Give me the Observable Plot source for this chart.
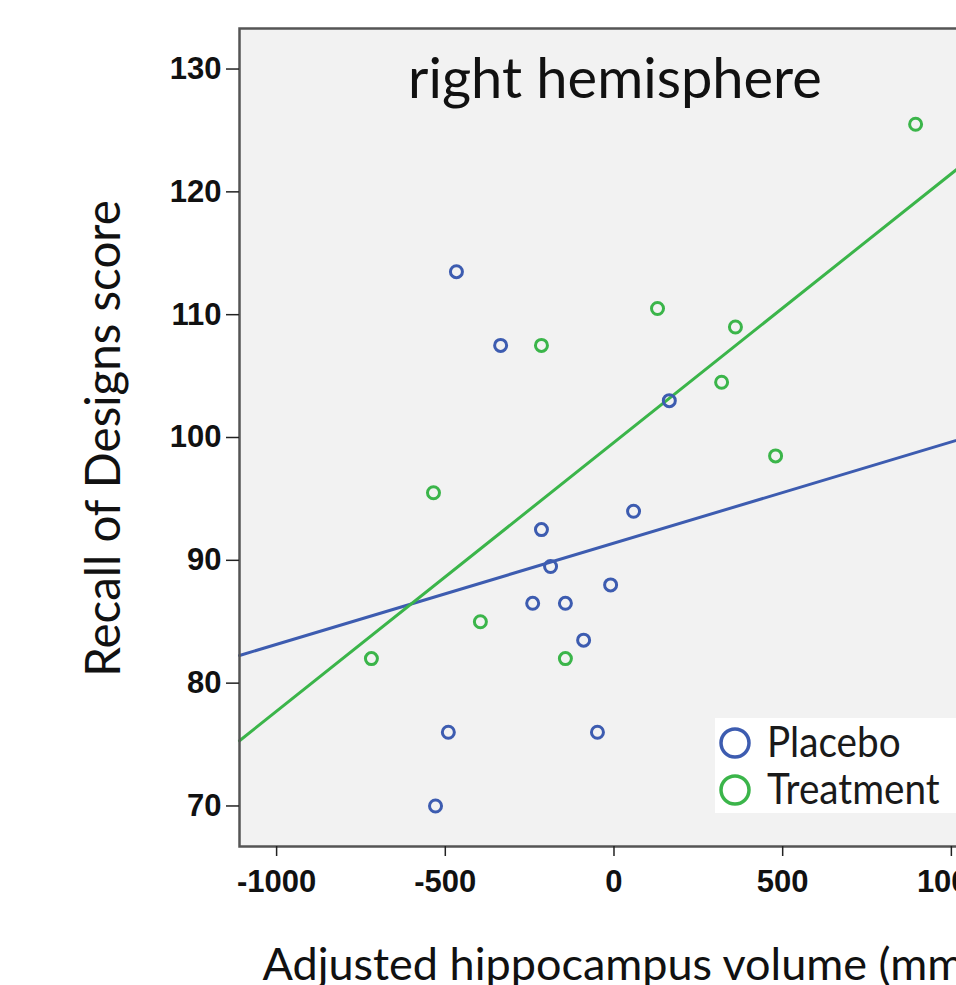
<!DOCTYPE html>
<html>
<head>
<meta charset="utf-8">
<script src="https://cdn.jsdelivr.net/npm/d3@7"></script>
<script src="https://cdn.jsdelivr.net/npm/@observablehq/plot@0.6"></script>
<style>
  html, body { margin: 0; padding: 0; background: #fff; overflow: hidden; width: 956px; height: 985px; }
  #chart svg { display: block; max-width: none !important; }
</style>
</head>
<body>
<div id="chart"></div>
<script>
// ---- data ----
const groups = ["Placebo", "Treatment"];
const groupColors = ["#3d5cb0", "#3bb54a"];

const placeboX = [-467, -336, 164, -215, 58, -188, -10, -241, -144, -90, -491, -49, -529];
const placeboY = [113.5, 107.5, 103, 92.5, 94, 89.5, 88, 86.5, 86.5, 83.5, 76, 76, 70];

const treatmentX = [894, 129, 360, -215, 319, 479, -535, -396, -144, -719];
const treatmentY = [125.5, 110.5, 109, 107.5, 104.5, 98.5, 95.5, 85, 82, 82];

// fitted lines (intercept at x = 0, slope per mm³)
const fitIntercept = [91.4, 99.6];
const fitSlope = [0.00824, 0.02188];

const xDomain = [-1110, 1116];
const yDomain = [66.7, 133.3];
const xTicks = [-1000, -500, 0, 500, 1000];
const yTicks = [70, 80, 90, 100, 110, 120, 130];

const titleText = "right hemisphere";
const xLabel = "Adjusted hippocampus volume (mm³)";
const yLabel = "Recall of Designs score";

// ---- build tables ----
const points = [
  ...placeboX.map((x, i) => ({x, y: placeboY[i], group: groups[0]})),
  ...treatmentX.map((x, i) => ({x, y: treatmentY[i], group: groups[1]}))
];
const lines = groups.flatMap((g, i) =>
  xDomain.map(x => ({x, y: fitIntercept[i] + fitSlope[i] * x, group: g}))
);

const textFont = "Lato, 'Open Sans', sans-serif";
const tickFont = "'Liberation Sans', Arial, sans-serif";

const chart = Plot.plot({
  width: 1000,
  height: 985,
  marginLeft: 239,
  marginTop: 28,
  marginBottom: 139,
  marginRight: 10,
  style: {background: "#fff", fontFamily: textFont, color: "#111", maxWidth: "none"},
  x: {domain: xDomain, label: null},
  y: {domain: yDomain, label: null},
  color: {domain: groups, range: groupColors},
  marks: [
    Plot.frame({fill: "#f2f2f2", stroke: "none"}),
    Plot.line(lines, {x: "x", y: "y", z: "group", stroke: "group", strokeWidth: 3}),
    Plot.dot(points, {x: "x", y: "y", stroke: "group", r: 6, strokeWidth: 3, fill: "none"}),
    Plot.frame({stroke: "#555", strokeWidth: 2.5}),
    Plot.axisX({ticks: xTicks, tickFormat: d => String(d), tickSize: 10, tickPadding: 13,
      fontSize: 31, fontWeight: "bold", fontFamily: tickFont, stroke: "#222", strokeWidth: 1.5, label: null}),
    Plot.axisY({ticks: yTicks, tickFormat: d => String(d), tickSize: 13, tickPadding: 5,
      fontSize: 31, fontWeight: "bold", fontFamily: tickFont, stroke: "#222", strokeWidth: 1.5, label: null}),
    Plot.text([titleText], {frameAnchor: "top", dy: 69, textAnchor: "middle", lineAnchor: "bottom", fontSize: 56, fill: "#111", fontFamily: textFont}),
    Plot.text([yLabel], {frameAnchor: "left", dx: -120, dy: 1, rotate: -90, textAnchor: "middle", lineAnchor: "bottom", fontSize: 47.5, fill: "#111", fontFamily: textFont}),
    Plot.text([xLabel], {frameAnchor: "bottom-left", dx: 23, dy: 133, textAnchor: "start", lineAnchor: "bottom", fontSize: 45, fill: "#111", fontFamily: textFont})
  ]
});

document.getElementById("chart").appendChild(chart);

// ---- legend inside the plot area (bottom-right corner) ----
const svg = d3.select(chart);
const leg = svg.append("g").attr("transform", "translate(715,718)");
leg.append("rect").attr("width", 270).attr("height", 95).attr("fill", "#fff");
groups.forEach((g, i) => {
  const row = leg.append("g").attr("transform", `translate(0,${25 + i * 47})`);
  row.append("circle").attr("cx", 20).attr("cy", 0).attr("r", 14)
    .attr("fill", "none").attr("stroke", groupColors[i]).attr("stroke-width", 3.5);
  row.append("text").attr("transform", "translate(52,14) scale(0.9,1)").attr("text-anchor", "start")
    .attr("font-family", textFont).attr("font-size", 43).attr("fill", "#1a1a1a")
    .text(g);
});
</script>
</body>
</html>
